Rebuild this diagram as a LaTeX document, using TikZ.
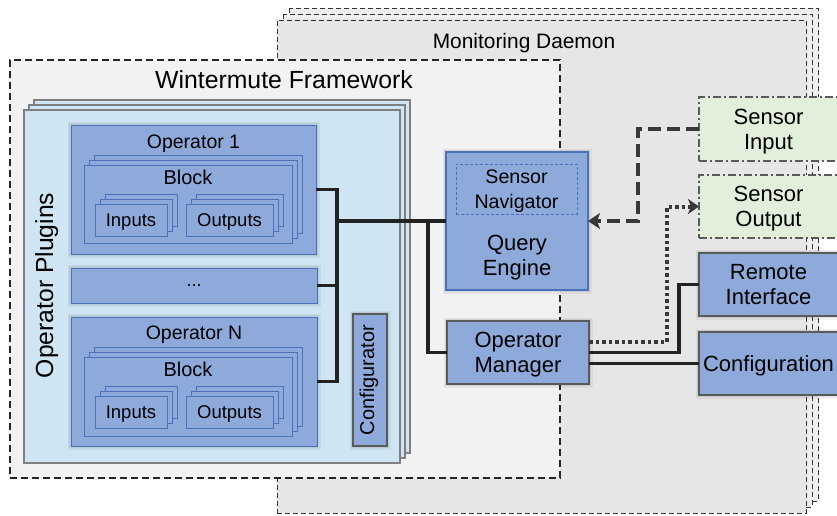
\documentclass[tikz,border=0pt]{standalone}
\usepackage{fontspec}
\setmainfont{Liberation Sans}
\usetikzlibrary{arrows.meta,calc}

\definecolor{daemonfill}{HTML}{E6E6E6}
\definecolor{daemonback}{HTML}{EEEEEE}
\definecolor{frameworkfill}{HTML}{F2F2F2}
\definecolor{pluginfill}{HTML}{CFE5F3}
\definecolor{opfill}{HTML}{8EAADB}
\definecolor{opline}{HTML}{4A72B8}
\definecolor{sensorfill}{HTML}{E2EFDA}
\definecolor{greyline}{HTML}{5A5A5A}
\definecolor{wirecol}{HTML}{222222}

\begin{document}
\begin{tikzpicture}[x=1pt,y=-1pt,
  fs/.style={font=\fontsize{#1}{25}\selectfont},
  panel/.style={rectangle, inner sep=0pt, outer sep=0pt, align=center, text depth=0pt},
  daemonline/.style={draw=black!80, line width=1pt, dash pattern=on 5pt off 3pt},
  frameline/.style={draw=black!85, line width=1.4pt, dash pattern=on 7pt off 4pt},
  plugline/.style={draw=black!50, line width=1.4pt},
  opborder/.style={draw=opline, line width=1pt},
  glow/.style={preaction={draw=black, opacity=0.05, line width=7pt},
               preaction={draw=black, opacity=0.07, line width=4pt}},
  opbox/.style={panel, fill=opfill, opborder},
  greybox/.style={panel, fill=opfill, draw=greyline, line width=1.8pt},
  sensorbox/.style={panel, fill=sensorfill, draw=greyline, line width=1.6pt,
                    dash pattern=on 8pt off 3pt on 2pt off 3pt},
  wire/.style={draw=wirecol, line width=3.2pt},
  thinwire/.style={draw=wirecol, line width=2.6pt},
  dashedflow/.style={draw=wirecol!90, line width=4pt, dash pattern=on 13pt off 6pt,
                     -{Stealth[length=12pt,width=16pt,inset=3pt]}},
  dottedflow/.style={draw=wirecol!90, line width=4pt, dash pattern=on 3.5pt off 3pt,
                     -{Stealth[length=11pt,width=15pt,inset=3pt]}}
]
\path[use as bounding box] (0,0) rectangle (837,515);
\clip (0,0) rectangle (837,515);

% ---------------- Monitoring daemon (stacked instances)
\foreach \k in {2,1}
  \path[daemonline, fill=daemonback, shift={(6*\k,-6*\k)}] (277,20) rectangle (806,513);
\node[panel, daemonline, fill=daemonfill, minimum width=529pt, minimum height=493pt]
  (daemon) at (541.5,266.5) {};
\node[fs=20.9, anchor=base] (daemonlabel) at (524,48) {Monitoring Daemon};

% ---------------- Wintermute framework
\node[panel, frameline, fill=frameworkfill, minimum width=550pt, minimum height=418pt]
  (framework) at (285,269) {};
\node[fs=24.8, anchor=base] (frameworklabel) at (284,88) {Wintermute Framework};

% ---------------- Operator plugins (stacked)
\foreach \k in {2,1}
  \path[plugline, fill=pluginfill, shift={(5*\k,-5*\k)}] (24,110) rectangle (400,463);
\node[panel, plugline, fill=pluginfill, minimum width=376pt, minimum height=353pt]
  (plugins) at (212,286.5) {};
\node[fs=24.7, rotate=90, anchor=base] (pluginslabel) at (53,285.5) {Operator Plugins};

% ---------------- Operator 1
\node[opbox, glow, minimum width=245pt, minimum height=129pt] (op1) at (193.5,189.5) {};
\node[fs=19.5, anchor=base] (op1label) at (193.5,148) {Operator 1};
\foreach \k in {2,1}
  \path[opborder, fill=opfill, shift={(5*\k,-5*\k)}] (84,165) rectangle (292,243);
\node[opbox, minimum width=208pt, minimum height=78pt] (block1) at (188,204) {};
\node[fs=20, anchor=base] (block1label) at (188,184) {Block};
\foreach \k in {2,1} {
  \path[opborder, fill=opfill, shift={(5*\k,-5*\k)}] (95,204) rectangle (167,236);
  \path[opborder, fill=opfill, shift={(5*\k,-5*\k)}] (186,204) rectangle (273,236);
}
\node[opbox, fs=18.5, minimum width=72pt, minimum height=32pt] (in1) at (131,220) {Inputs};
\node[opbox, fs=18.5, minimum width=87pt, minimum height=32pt] (out1) at (229.5,220) {Outputs};

% ---------------- further operators
\node[opbox, glow, fs=18, minimum width=246pt, minimum height=35pt] (dots) at (194,285.5) {...};

% ---------------- Operator N
\node[opbox, glow, minimum width=246pt, minimum height=129pt] (opn) at (194,381.5) {};
\node[fs=19.5, anchor=base] (opnlabel) at (194,339) {Operator N};
\foreach \k in {2,1}
  \path[opborder, fill=opfill, shift={(5*\k,-5*\k)}] (84,357) rectangle (292,436);
\node[opbox, minimum width=208pt, minimum height=79pt] (blockn) at (188,396.5) {};
\node[fs=20, anchor=base] (blocknlabel) at (188,376) {Block};
\foreach \k in {2,1} {
  \path[opborder, fill=opfill, shift={(5*\k,-5*\k)}] (95,396) rectangle (167,428);
  \path[opborder, fill=opfill, shift={(5*\k,-5*\k)}] (186,396) rectangle (273,428);
}
\node[opbox, fs=18.5, minimum width=72pt, minimum height=32pt] (inn) at (131,412) {Inputs};
\node[opbox, fs=18.5, minimum width=87pt, minimum height=32pt] (outn) at (229.5,412) {Outputs};

% ---------------- Configurator
\node[greybox, glow, minimum width=34pt, minimum height=132pt] (configurator) at (370,380) {};
\node[fs=20, rotate=90] (configuratorlabel) at (369,380) {Configurator};

% ---------------- Query engine and operator manager
\node[panel, fill=opfill, draw=opline, line width=1.2pt, glow, minimum width=142pt, minimum height=138pt]
  (qe) at (517,221) {};
\node[panel, draw=opline, line width=0.8pt, dash pattern=on 3pt off 2pt,
      minimum width=121pt, minimum height=50pt, fs=19.6] (nav) at (516.5,189) {Sensor\\Navigator};
\node[panel, fs=22] (qelabel) at (517,255) {Query\\Engine};
\node[greybox, glow, fs=22, minimum width=142pt, minimum height=63pt] (om) at (518,352.5) {Operator\\Manager};

% ---------------- external interfaces
\node[sensorbox, fs=22, minimum width=139pt, minimum height=64pt] (si) at (768.5,129) {Sensor\\Input};
\node[sensorbox, fs=22, minimum width=139pt, minimum height=63pt] (so) at (768.5,206.5) {Sensor\\Output};
\node[greybox, glow, fs=22, minimum width=139pt, minimum height=63pt] (ri) at (768.5,284.5) {Remote\\Interface};
\node[greybox, glow, fs=22, minimum width=139pt, minimum height=63pt] (cf) at (768.5,363.5) {Configuration};

% ---------------- connectors
\coordinate (busx) at (337,0);
\coordinate (mgrx) at (428,0);
\coordinate (inx) at (638,0);
\coordinate (outx) at (667,0);
\coordinate (remx) at (679,0);

\draw[wire] (op1.east) -| (busx |- opn.east) -- (opn.east);
\draw[wire] (dots.east) -- (dots.east -| busx);
\draw[wire] (busx |- qe.west) -- (qe.west);
\draw[wire] (mgrx |- qe.west) |- (om.west);

\draw[dashedflow] (si.west) -| (inx |- qe.east) -- (qe.east);
\draw[dottedflow] ($(om.east)+(0,-11)$) -| (outx |- so.west) -- (so.west);
\draw[wire] (om.east) -| (remx |- ri.west) -- (ri.west);
\draw[thinwire] ($(om.east)+(0,11)$) -- (cf.west);
\end{tikzpicture}
\end{document}
